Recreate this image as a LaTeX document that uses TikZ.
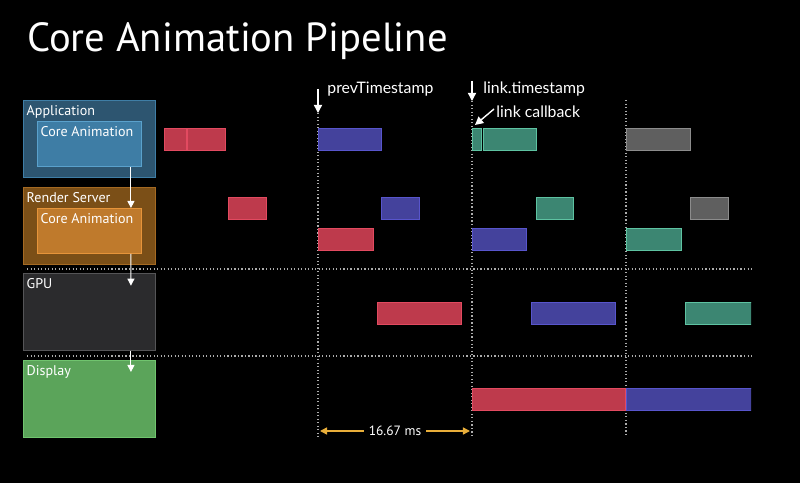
\documentclass[tikz,border=0pt]{standalone}
\usepackage{fontspec}
\setmainfont{PT Sans}
\newfontfamily\tsfont{Lato}
\usetikzlibrary{positioning, arrows.meta}

\definecolor{appfill}{HTML}{2D5570}
\definecolor{appline}{HTML}{3F7EA6}
\definecolor{appinfill}{HTML}{3E7DA5}
\definecolor{appinline}{HTML}{5AA1CC}
\definecolor{rsfill}{HTML}{7B4F17}
\definecolor{rsline}{HTML}{A56A22}
\definecolor{rsinfill}{HTML}{BF7A2C}
\definecolor{rsinline}{HTML}{E6943A}
\definecolor{gpufill}{HTML}{2B2B2D}
\definecolor{gpuline}{HTML}{555557}
\definecolor{dispfill}{HTML}{5BA45A}
\definecolor{displine}{HTML}{70C46E}
\definecolor{redfill}{HTML}{BE3A4C}
\definecolor{redline}{HTML}{E24A60}
\definecolor{bluefill}{HTML}{44429C}
\definecolor{blueline}{HTML}{5855CC}
\definecolor{greenfill}{HTML}{3C8672}
\definecolor{greenline}{HTML}{5EC3A2}
\definecolor{grayfill}{HTML}{5F5F5F}
\definecolor{grayline}{HTML}{8C8C8C}
\definecolor{spancol}{HTML}{E8AE3A}

% one piece of work on the timeline: style, name, left, top, right, bottom
\newcommand{\frameslot}[6]{%
  \node[#1, minimum width={(#5-#3)*0.03cm}, minimum height={(#6-#4)*0.03cm}] (#2) at (#3,#4) {};}

\begin{document}
\begin{tikzpicture}[
  x=0.03cm, y=-0.03cm,
  font=\fontsize{11}{13}\selectfont,
  layer/.style={draw, line width=0.8pt, anchor=north west, inner sep=0pt,
    minimum width=3.96cm, minimum height=2.31cm},
  inlayer/.style={draw, line width=0.8pt, anchor=north west, inner sep=0pt,
    minimum width=3.12cm, minimum height=1.35cm},
  lbl/.style={anchor=north west, text=white, inner xsep=3pt, inner ysep=4.5pt,
    font=\fontsize{12}{14}\selectfont},
  job/.style={draw, line width=0.8pt, anchor=north west, inner sep=0pt, outer sep=0pt},
  redjob/.style={job, draw=redline, fill=redfill},
  bluejob/.style={job, draw=blueline, fill=bluefill},
  greenjob/.style={job, draw=greenline, fill=greenfill},
  grayjob/.style={job, draw=grayline, fill=grayfill},
  flow/.style={draw=white, line width=0.9pt, -{Triangle[width=6pt, length=6pt]}},
  vsync/.style={draw=gray!65, line width=0.9pt, dash pattern=on 1pt off 2pt},
  pointer/.style={draw=white, line width=1.2pt, -{Triangle[width=7pt, length=7pt]}},
  tslbl/.style={anchor=west, text=white, font=\tsfont\fontsize{13.5}{15}\selectfont, inner sep=1pt}
]
\fill[black] (0,0) rectangle (800,483);
\useasboundingbox (0,0) rectangle (800,483);

\node[anchor=base west, text=white, inner sep=0pt, font=\fontsize{34.7}{40}\selectfont]
  (title) at (27,52) {Core Animation Pipeline};

% layers down the left side
\node[layer, draw=appline, fill=appfill, label={[lbl]north west:Application}] (app) at (23,100) {};
\node[inlayer, draw=appinline, fill=appinfill, label={[lbl]north west:Core Animation}] (appca) at (37,121) {};
\node[layer, draw=rsline, fill=rsfill, label={[lbl]north west:Render Server}] (rs) at (23,187) {};
\node[inlayer, draw=rsinline, fill=rsinfill, label={[lbl]north west:Core Animation}] (rsca) at (37,208) {};
\node[layer, draw=gpuline, fill=gpufill, label={[lbl]north west:GPU}] (gpu) at (23,273) {};
\node[layer, draw=displine, fill=dispfill, label={[lbl]north west:Display}] (disp) at (23,360) {};

% hand-off between layers
\coordinate (gpuin) at ([xshift=-0.75cm, yshift=-0.38cm]gpu.north east);
\coordinate (dispin) at ([xshift=-0.75cm, yshift=-0.36cm]disp.north east);
\draw[flow] ([xshift=-0.33cm]appca.south east) -- ([xshift=-0.33cm]rsca.north east);
\draw[flow] ([xshift=-0.33cm]rsca.south east) -- (gpuin);
\draw[flow] (gpuin |- gpu.south) -- (dispin);

% row separators
\coordinate (sepa) at (27,269);
\coordinate (sepb) at (27,356);
\draw[vsync] (sepa) -- (752,269);
\draw[vsync] (sepb) -- (752,356);

% vsync lines
\coordinate (t0) at (318,113);
\coordinate (t1) at (472,101);
\coordinate (t2) at (626,100);
\draw[vsync] (t0) -- (318,437);
\draw[vsync] (t1) -- (472,437);
\draw[vsync] (t2) -- (626,437);

% application row
\frameslot{redjob}{a1}{164}{128}{186}{150}
\frameslot{redjob}{a2}{187}{128}{225}{150}
\frameslot{bluejob}{a3}{318}{128}{381}{150}
\frameslot{greenjob}{a4}{472}{128}{481}{150}
\frameslot{greenjob}{a5}{483}{128}{536}{150}
\frameslot{grayjob}{a6}{626}{128}{690}{150}

% render server rows
\frameslot{redjob}{r1}{228}{197}{266}{219}
\frameslot{bluejob}{r2}{381}{197}{419}{219}
\frameslot{greenjob}{r3}{536}{197}{573}{219}
\frameslot{grayjob}{r4}{690}{197}{728}{219}
\frameslot{redjob}{r5}{318}{228}{373}{250}
\frameslot{bluejob}{r6}{472}{228}{526}{250}
\frameslot{greenjob}{r7}{626}{228}{681}{250}

% gpu and display rows, cut at the right edge
\begin{scope}
\clip (0,0) rectangle (751,483);
\frameslot{redjob}{g1}{377}{302}{461}{324}
\frameslot{bluejob}{g2}{531}{302}{615}{324}
\frameslot{greenjob}{g3}{685}{302}{760}{324}
\frameslot{redjob}{d1}{472}{388}{625}{410}
\frameslot{bluejob}{d2}{626}{388}{760}{410}
\end{scope}

% timestamps
\node[tslbl] (prev) at (326,89) {prevTimestamp};
\node[tslbl] (link) at (482,89) {link.timestamp};
\node[tslbl] (cb) at (495,112) {link callback};
\draw[pointer] (318,89) -- (t0);
\draw[pointer] (472,81) -- (t1);
\draw[pointer] ([shift={(-1,-3)}]cb.west) -- ([shift={(3,-3)}]a4.north west);

% frame length
\coordinate (m0) at (320,431);
\coordinate (m1) at (470,431);
\draw[spancol, line width=1.3pt, {Triangle[width=6pt, length=6pt]}-{Triangle[width=6pt, length=6pt]}]
  (m0) -- node[fill=black, text=white, inner sep=4pt, font=\fontsize{11.5}{13}\selectfont] (ms) {16.67 ms} (m1);

\end{tikzpicture}
\end{document}
